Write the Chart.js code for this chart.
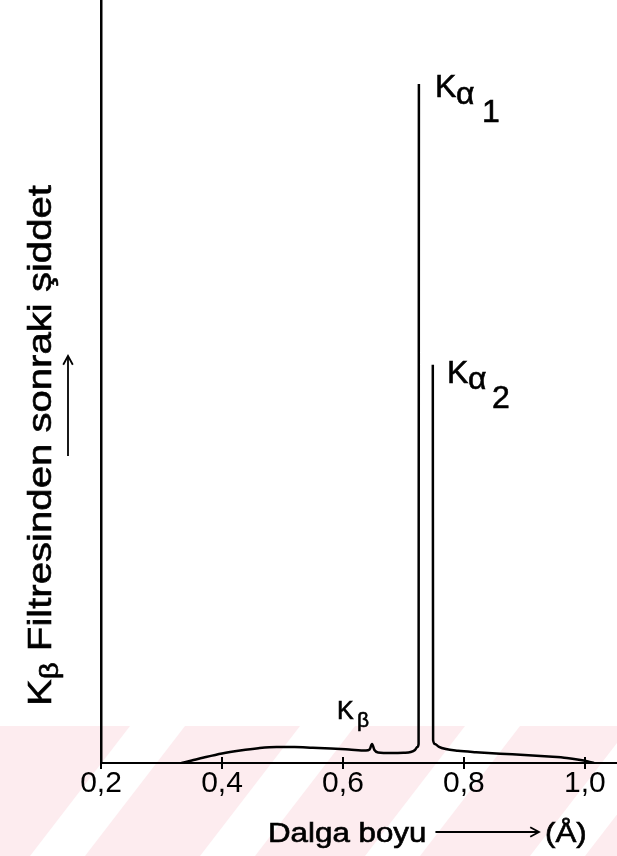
<!DOCTYPE html>
<html>
<head>
<meta charset="utf-8">
<script src="https://cdn.jsdelivr.net/npm/chart.js@4/dist/chart.umd.min.js"></script>
<style>
  html, body { margin: 0; padding: 0; background: #fff; }
  #wrap { position: relative; width: 617px; height: 856px; }
  canvas { display: block; }
</style>
</head>
<body>
<div id="wrap"><canvas id="spectrum" width="617" height="856"></canvas></div>
<script>
// Wavelength (Å) of each point on the trace; null intensity splits Kα1 from Kα2.
const wavelength = [
  0.333, 0.35, 0.37, 0.40, 0.43, 0.46, 0.49, 0.52, 0.55, 0.58, 0.61,
  0.638, 0.644, 0.648, 0.652, 0.658, 0.68, 0.70, 0.712, 0.719, 0.723, 0.725, 0.7255,
  0.737,
  0.7485, 0.749, 0.752, 0.758, 0.77, 0.79, 0.82, 0.86, 0.90, 0.94, 0.97, 0.99, 1.005, 1.015
];
// Intensity after the Kβ filter (relative units, axis top = 100).
const intensity = [
  0, 0.33, 0.72, 1.25, 1.64, 1.94, 2.10, 2.10, 2.00, 1.90, 1.77,
  1.64, 1.77, 2.49, 1.70, 1.38, 1.31, 1.35, 1.44, 1.70, 2.10, 2.49, 89.0,
  null,
  52.2, 3.0, 2.49, 2.16, 1.83, 1.61, 1.42, 1.22, 1.05, 0.85, 0.66, 0.43, 0.20, 0
];
const tickValues = [0.2, 0.4, 0.6, 0.8, 1.0];
const tickLabels = ['0,2', '0,4', '0,6', '0,8', '1,0'];

const xTitle = 'Dalga boyu';
const xUnit = '(Å)';
const yTitleMain = 'K';
const yTitleSub = 'β';
const yTitleRest = ' Filtresinden sonraki şiddet';

const FONT = "'Liberation Sans', Arial, Helvetica, sans-serif";

const points = wavelength.map((w, i) => ({ x: w, y: intensity[i] }));

// faint pink band with slanted white stripes along the bottom of the sheet
const sheetBackground = {
  id: 'sheetBackground',
  beforeDraw(chart) {
    const ctx = chart.ctx;
    ctx.save();
    ctx.fillStyle = '#ffffff';
    ctx.fillRect(0, 0, chart.width, chart.height);
    const top = 726, h = chart.height - top;
    ctx.fillStyle = '#fdecef';
    ctx.fillRect(0, top, chart.width, h);
    ctx.fillStyle = '#ffffff';
    [130, 300, 465, 630].forEach(x0 => {
      ctx.beginPath();
      ctx.moveTo(x0, top);
      ctx.lineTo(x0 + 55, top);
      ctx.lineTo(x0 + 55 - 100, top + h);
      ctx.lineTo(x0 - 100, top + h);
      ctx.closePath();
      ctx.fill();
    });
    ctx.restore();
  }
};

function arrowHead(ctx, x, y, dir) {
  // open arrow head pointing in direction dir (radians)
  const len = 10, spread = 0.5;
  ctx.beginPath();
  ctx.moveTo(x - len * Math.cos(dir - spread), y - len * Math.sin(dir - spread));
  ctx.lineTo(x, y);
  ctx.lineTo(x - len * Math.cos(dir + spread), y - len * Math.sin(dir + spread));
  ctx.stroke();
}

// filled text with a hairline outline so the strokes read a little heavier
function inkText(ctx, text, x, y) {
  ctx.fillText(text, x, y);
  ctx.strokeText(text, x, y);
}

// text drawn slightly widened along its run, as in the typeset figure
function wideText(ctx, text, x, y, sx) {
  ctx.save();
  ctx.translate(x, y);
  ctx.scale(sx, 1);
  inkText(ctx, text, 0, 0);
  ctx.restore();
  return ctx.measureText(text).width * sx;
}

const annotations = {
  id: 'annotations',
  afterDraw(chart) {
    const ctx = chart.ctx;
    const xs = chart.scales.x;
    const area = chart.chartArea;
    ctx.save();
    ctx.fillStyle = '#000';
    ctx.strokeStyle = '#000';
    ctx.lineWidth = 2;

    // inner half of the x tick marks
    tickValues.forEach(v => {
      const px = Math.round(xs.getPixelForValue(v));
      ctx.beginPath();
      ctx.moveTo(px, area.bottom - 6);
      ctx.lineTo(px, area.bottom);
      ctx.stroke();
    });

    ctx.textBaseline = 'alphabetic';
    ctx.textAlign = 'left';
    ctx.lineWidth = 0.6;

    // Kα1
    ctx.font = '32px ' + FONT;
    inkText(ctx, 'K', 435, 97);
    inkText(ctx, 'α', 456, 104);
    inkText(ctx, '1', 482, 122);
    // Kα2
    inkText(ctx, 'K', 447, 383);
    inkText(ctx, 'α', 468, 389);
    inkText(ctx, '2', 492, 408);
    // Kβ
    ctx.font = '25px ' + FONT;
    inkText(ctx, 'K', 337, 719);
    ctx.font = '21px ' + FONT;
    inkText(ctx, 'β', 357, 727);

    // x title with arrow
    ctx.font = '27px ' + FONT;
    const titleEnd = 268 + wideText(ctx, xTitle, 268, 842, 1.16);
    wideText(ctx, xUnit, 545, 842, 1.16);
    ctx.lineWidth = 1.8;
    ctx.beginPath();
    ctx.moveTo(titleEnd + 9, 832);
    ctx.lineTo(539, 832);
    ctx.stroke();
    arrowHead(ctx, 539, 832, 0);

    // y title, rotated, reading upward
    ctx.save();
    ctx.lineWidth = 0.6;
    ctx.translate(51, 706);
    ctx.rotate(-Math.PI / 2);
    ctx.font = '34px ' + FONT;
    let off = wideText(ctx, yTitleMain, 0, 0, 1.18);
    ctx.font = '25px ' + FONT;
    off += wideText(ctx, yTitleSub, off, 7, 1.18);
    ctx.font = '34px ' + FONT;
    wideText(ctx, yTitleRest, off, 0, 1.18);
    ctx.restore();

    // upward arrow beside the y title
    ctx.lineWidth = 1.8;
    ctx.beginPath();
    ctx.moveTo(68, 456);
    ctx.lineTo(68, 356);
    ctx.stroke();
    arrowHead(ctx, 68, 356, -Math.PI / 2);

    ctx.restore();
  }
};

new Chart(document.getElementById('spectrum'), {
  type: 'line',
  data: {
    datasets: [{
      data: points,
      borderColor: '#000',
      borderWidth: 2.5,
      pointRadius: 0,
      fill: false,
      spanGaps: false,
      cubicInterpolationMode: 'monotone'
    }]
  },
  options: {
    responsive: false,
    animation: false,
    devicePixelRatio: 1,
    layout: { padding: 0 },
    plugins: { legend: { display: false }, tooltip: { enabled: false } },
    scales: {
      x: {
        type: 'linear',
        min: 0.2,
        max: 1.053,
        afterBuildTicks(s) { s.ticks = tickValues.map(v => ({ value: v })); },
        afterFit(s) { s.height = 93; },
        ticks: {
          autoSkip: false,
          maxRotation: 0,
          minRotation: 0,
          padding: -3,
          color: '#000',
          font: { family: FONT, size: 30 },
          callback: (v) => tickLabels[tickValues.indexOf(v)] ?? ''
        },
        grid: { display: true, drawOnChartArea: false, drawTicks: true, tickLength: 6, color: '#000', lineWidth: 2 },
        border: { display: true, color: '#000', width: 2 }
      },
      y: {
        min: 0,
        max: 100,
        afterFit(s) { s.width = 101; },
        ticks: { display: false },
        grid: { display: false },
        border: { display: true, color: '#000', width: 2.5 }
      }
    }
  },
  plugins: [sheetBackground, annotations]
});
</script>
</body>
</html>
